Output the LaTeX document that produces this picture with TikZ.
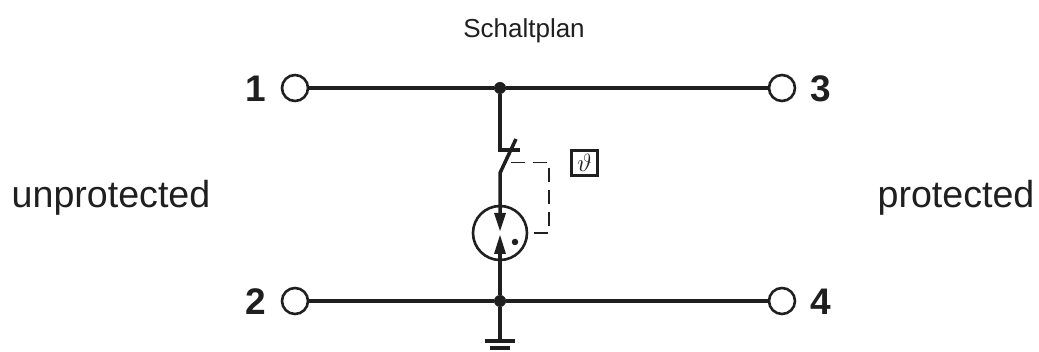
\documentclass[tikz,border=0pt]{standalone}
\usepackage{amsmath}
\usepackage{fontspec}
\setmainfont{Liberation Sans}
\usetikzlibrary{arrows.meta}
\colorlet{ink}{black!88}
\tikzset{
  wire/.style={line width=3.5pt,draw=ink},
  ctrl/.style={line width=1.8pt,draw=ink,dash pattern=on 14pt off 8pt},
  terminal/.style={circle,draw=ink,line width=2.6pt,minimum size=26pt,inner sep=0pt,fill=white},
  junction/.style={circle,fill=ink,minimum size=12pt,inner sep=0pt},
  tnum/.style={font=\fontsize{37}{37}\selectfont\bfseries,text=ink,inner sep=0pt},
  side/.style={font=\fontsize{37.6}{38}\selectfont,text=ink,inner sep=0pt},
  title/.style={font=\fontsize{26}{26}\selectfont,text=ink,inner sep=0pt},
  tip/.style={fill=ink,draw=none}
}
\begin{document}
\begin{tikzpicture}[x=1pt,y=-1pt]
\useasboundingbox (0,0) rectangle (1039,352);
\node[title] (ttl) at (524,31) {Schaltplan};
\node[side] (unp) at (111,198) {unprotected};
\node[side] (pro) at (956,198) {protected};
\node[terminal] (t1) at (295,88) {};
\node[terminal] (t3) at (782,88) {};
\node[terminal] (t2) at (295,301) {};
\node[terminal] (t4) at (782,301) {};
\node[tnum] (n1) at (256,89) {1};
\node[tnum] (n3) at (821,89) {3};
\node[tnum] (n2) at (256,302) {2};
\node[tnum] (n4) at (821,302) {4};
\node[junction] (j1) at (500,88) {};
\node[junction] (j2) at (500,301) {};
\draw[wire] (t1) -- (j1) -- (t3);
\draw[wire] (t2) -- (j2) -- (t4);
% gap
\node[circle,draw=ink,line width=2.6pt,minimum size=54pt,inner sep=0pt] (gap) at (500,233) {};
\coordinate (contact) at (500,150);
\coordinate (contactr) at (520,150);
\coordinate (bladeb) at (500,173);
\coordinate (bladet) at (516,139);
\coordinate (ctrls) at (511,162.5);
\coordinate (ctrlc) at (549,162.5);
\coordinate (ctrld) at (549,233);
\draw[wire,line join=miter] (j1) -- (contact) -- (contactr);
\draw[wire,line join=round] (bladet) -- (bladeb) -- (500,216);
\draw[wire] (j2) -- (500,252);
\fill[tip] (494,213) -- (506,213) -- (500,231) -- cycle;
\fill[tip] (494,254) -- (506,254) -- (500,235) -- cycle;
\node[circle,fill=ink,minimum size=6.5pt,inner sep=0pt] (dot) at (515,242) {};
\draw[ctrl] (ctrls) -- (ctrlc) -- (ctrld) -- (gap.east);
% theta box
\node[draw=ink,line width=2.4pt,minimum width=26pt,minimum height=25pt,inner sep=0pt,text=ink] (th) at (584.5,163) {\fontsize{26}{26}\selectfont$\vartheta$};
% ground
\coordinate (g1) at (500,341);
\draw[wire] (j2) -- (g1);
\draw[line width=3.4pt,draw=ink] (485,341) -- (515,341);
\draw[line width=3.4pt,draw=ink] (490,348) -- (510,348);
\end{tikzpicture}
\end{document}
